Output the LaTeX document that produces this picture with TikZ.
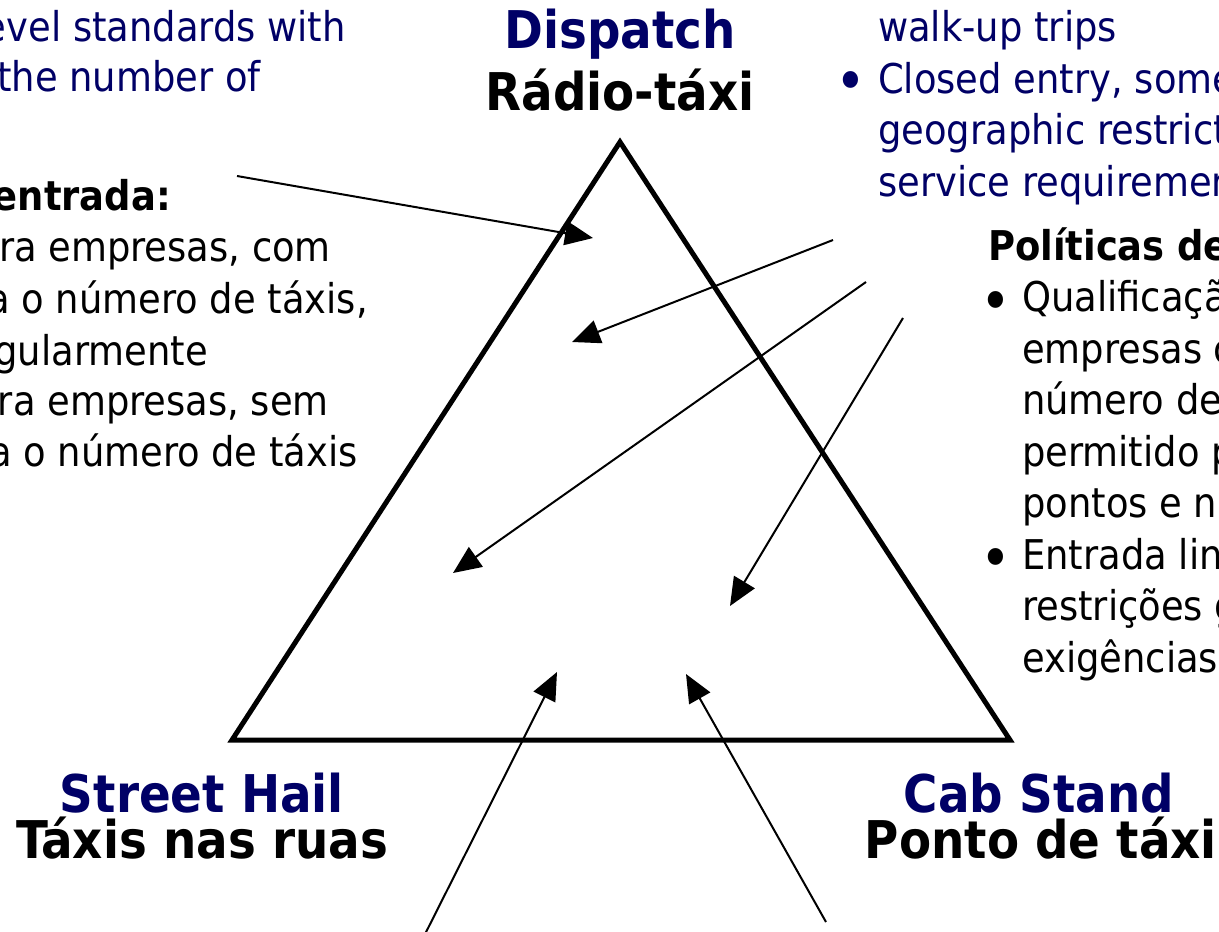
\documentclass[tikz,border=0pt]{standalone}
\usepackage{fontspec}
\setmainfont{DejaVu Sans Condensed}
\usetikzlibrary{arrows.meta}
\definecolor{navy}{RGB}{0,0,102}

\begin{document}
\begin{tikzpicture}[x=1pt,y=-1pt,
		head/.style={font=\fontsize{52}{60}\selectfont\bfseries, inner sep=0, anchor=base},
		body/.style={font=\fontsize{41}{51.5}\selectfont, inner sep=0, align=left},
		dot/.style={font=\fontsize{58}{60}\selectfont, inner sep=0, anchor=base},
		pointer/.style={line width=2pt, -{Triangle[length=28pt,width=24pt]}}]
				\useasboundingbox (0,0) rectangle (1219,932);
				\clip (0,0) rectangle (1219,932);
				
				\coordinate (apex) at (620,142);
				\coordinate (hailcorner) at (232,740);
				\coordinate (standcorner) at (1010,740);
				\draw[line width=5pt] (apex) -- (hailcorner) -- (standcorner) -- cycle;
				
				\node[head, navy] (dispatch) at (620,48) {Dispatch};
				\node[head] (radio) at (620,110) {Rádio-táxi};
				\node[head, navy] (hail) at (202,812) {Street Hail};
				\node[head] (hailpt) at (202,858) {Táxis nas ruas};
				\node[head, navy] (stand) at (1039,812) {Cab Stand};
				\node[head] (standpt) at (1041,858) {Ponto de táxi};
				
				\node[body, navy, anchor=base east] (lev) at (346,41.7) {evel standards with};
				\node[body, navy, anchor=base east] (numof) at (261,91.7) {the number of};
				\node[body, anchor=base east, font=\fontsize{41}{51.5}\selectfont\bfseries] (entr) at (171,210) {entrada:};
				\node[body, anchor=base east] (lcom) at (331,261.7) {ra empresas, com};
				\node[body, anchor=base east] (lnum) at (368,313.3) {a o número de táxis,};
				\node[body, anchor=base east] (lreg) at (208,365) {gularmente};
				\node[body, anchor=base east] (lsem) at (329,415) {ra empresas, sem};
				\node[body, anchor=base east] (lnum2) at (358,466.7) {a o número de táxis};
				
				% base of a multi-line node is its last line
				\node[body, navy, anchor=base west] (walk) at (878,196.2) {walk-up trips\\Closed entry, some\\geographic restrict\\service requiremen};
				\node[dot, navy] (bul1) at (851,101) {\textbullet};
				
				\node[body, anchor=base west, font=\fontsize{41}{51.5}\selectfont\bfseries] (pol) at (988,260) {Políticas de};
				\node[body, anchor=base west] (qual) at (1022,672) {Qualificaçã\\empresas c\\número de\\permitido p\\pontos e n\\Entrada lin\\restrições g\\exigências};
				\node[dot] (bul2) at (996,321) {\textbullet};
				\node[dot] (bul3) at (996,578.5) {\textbullet};
				
				\coordinate (s1) at (237,176);
				\coordinate (t1) at (593,238);
				\coordinate (s2) at (833,240);
				\coordinate (t2) at (572,342);
				\coordinate (s3) at (866,282);
				\coordinate (t3) at (453,573);
				\coordinate (s4) at (903,318);
				\coordinate (t4) at (730,606);
				\coordinate (s5) at (412,960);
				\coordinate (t5) at (557,672);
				\coordinate (s6) at (826,922);
				\coordinate (t6) at (686,674);
				\draw[pointer] (s1) -- (t1);
				\draw[pointer] (s2) -- (t2);
				\draw[pointer] (s3) -- (t3);
				\draw[pointer] (s4) -- (t4);
				\draw[pointer] (s5) -- (t5);
				\draw[pointer] (s6) -- (t6);
			\end{tikzpicture}
\end{document}
